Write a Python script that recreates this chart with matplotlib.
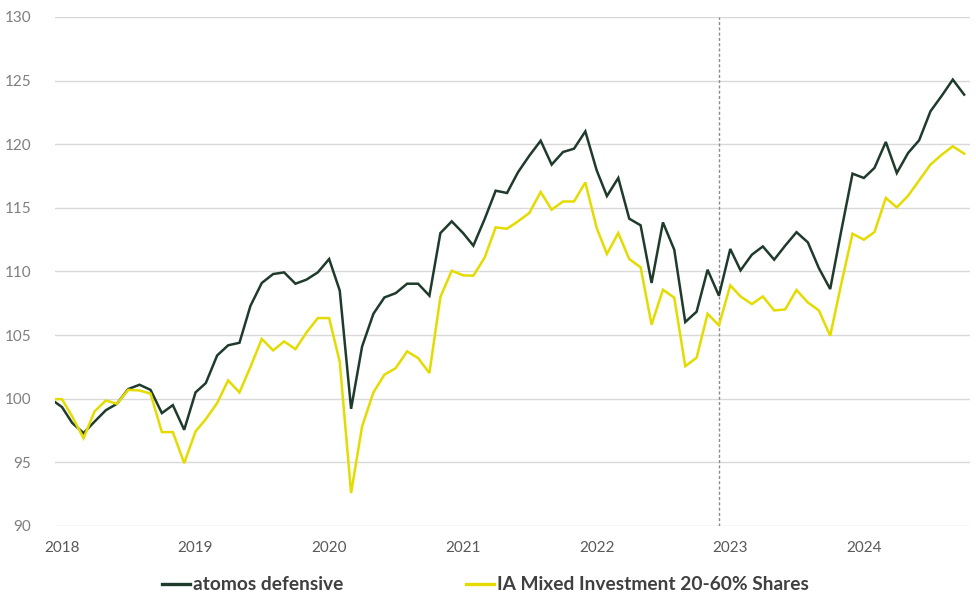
import matplotlib
matplotlib.use("Agg")
import matplotlib.pyplot as plt
import pandas as pd
import numpy as np

# ---- data ----
start_date = "2018-01-12"
month_ends = pd.date_range("2018-02-01", "2024-11-01", freq="MS") - pd.Timedelta(days=1)
dates = pd.DatetimeIndex([pd.Timestamp(start_date)]).append(month_ends)

atomos = [99.74,
          99.35, 98.1, 97.3, 98.2, 99.1, 99.6, 100.76, 101.1, 100.7, 98.87, 99.5, 97.56,
          100.5, 101.23, 103.4, 104.2, 104.4, 107.3, 109.1, 109.8, 109.93, 109.04, 109.36, 109.93,
          110.98, 108.5, 99.21, 104.1, 106.68, 107.96, 108.3, 109.04, 109.04, 108.1, 113.02, 113.94,
          113.02, 112.03, 114.13, 116.35, 116.17, 117.8, 119.1, 120.28, 118.4, 119.39, 119.65, 121.01,
          117.95, 115.93, 117.35, 114.15, 113.63, 109.1, 113.86, 111.71, 106.03, 106.84, 110.14, 108.1,
          111.77, 110.09, 111.32, 111.97, 110.93, 112.03, 113.09, 112.29, 110.27, 108.62, 113.16, 117.69,
          117.35, 118.14, 120.18, 117.74, 119.32, 120.31, 122.59, 123.82, 125.08, 123.9]

ia_mixed = [99.97,
            99.97, 98.6, 96.9, 99.0, 99.87, 99.6, 100.7, 100.65, 100.4, 97.38, 97.38, 94.94,
            97.43, 98.4, 99.66, 101.44, 100.5, 102.5, 104.7, 103.8, 104.5, 103.9, 105.2, 106.34,
            106.34, 102.9, 92.59, 97.82, 100.5, 101.89, 102.41, 103.72, 103.2, 102.02, 108.0, 110.06,
            109.7, 109.67, 111.1, 113.47, 113.36, 113.94, 114.6, 116.25, 114.86, 115.5, 115.5, 117.0,
            113.42, 111.38, 113.02, 110.98, 110.33, 105.82, 108.57, 107.94, 102.56, 103.22, 106.68, 105.77,
            108.91, 108.04, 107.44, 108.04, 106.94, 107.02, 108.54, 107.57, 106.94, 104.95, 109.0, 112.97,
            112.5, 113.1, 115.78, 115.04, 115.96, 117.16, 118.4, 119.18, 119.84, 119.26]

series_names = ["atomos defensive", "IA Mixed Investment 20-60% Shares"]
year_ticks = pd.to_datetime(["2018-01-31", "2019-01-31", "2020-01-31", "2021-01-31",
                             "2022-01-31", "2023-01-31", "2024-01-31"])
year_labels = ["2018", "2019", "2020", "2021", "2022", "2023", "2024"]
marker_date = pd.Timestamp("2022-12-31")
y_ticks = [90, 95, 100, 105, 110, 115, 120, 125, 130]

# ---- figure ----
plt.rcParams["font.family"] = ["Lato", "DejaVu Sans"]
fig = plt.figure(figsize=(9.76, 5.96), dpi=100)
ax = fig.add_axes([55 / 976, 1 - 526 / 596, 915 / 976, 509 / 596])

dark = "#1f3b2b"
yellow = "#e4dc00"

ax.plot(dates, atomos, color=dark, lw=1.8, label=series_names[0], zorder=3,
        solid_joinstyle="miter")
ax.plot(dates, ia_mixed, color=yellow, lw=1.8, label=series_names[1], zorder=4,
        solid_joinstyle="miter")

ax.axvline(marker_date, color="#8c8c8c", lw=1.0, linestyle=(0, (2.2, 1.6)), zorder=2)

ax.set_ylim(90, 130)
ax.set_yticks(y_ticks)
ax.set_xlim(pd.Timestamp(start_date), pd.Timestamp("2024-11-16"))
ax.set_xticks(year_ticks)
ax.set_xticklabels(year_labels)

ax.grid(axis="y", color="#d9d9d9", lw=1.0, zorder=0)
ax.grid(axis="x", visible=False)
for s in ax.spines.values():
    s.set_visible(False)
ax.tick_params(axis="both", length=0)
ax.tick_params(axis="y", labelsize=11, labelcolor="#7f7f7f", pad=17)
ax.tick_params(axis="x", labelsize=11, labelcolor="#595959", pad=11)

leg = fig.legend(loc="center", bbox_to_anchor=(0.4974, 0.0185), ncol=2, frameon=False,
                 handlelength=1.45, handletextpad=0.15, columnspacing=6.4,
                 prop={"weight": "bold", "size": 13.8})
for line in leg.get_lines():
    line.set_linewidth(2.4)
for t in leg.get_texts():
    t.set_color("#404040")

fig.savefig("out.png", dpi=100)
